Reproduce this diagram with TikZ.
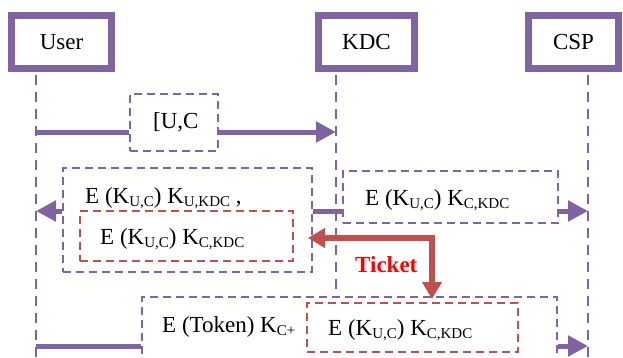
\documentclass[tikz,border=0pt]{standalone}
\usepackage{fontspec}
\setmainfont{Liberation Serif}
\usetikzlibrary{arrows.meta}
\definecolor{opurple}{HTML}{8064A2}
\definecolor{ored}{HTML}{C0504D}
\definecolor{tred}{HTML}{FF0000}
\newcommand\sbs[1]{\raisebox{-3.5pt}{\fontsize{15}{15}\selectfont #1}}
\tikzset{
  actor/.style={draw=opurple, line width=6.5pt, fill=white, inner sep=0pt, font=\fontsize{23}{27}\selectfont},
  life/.style={draw=opurple, line width=2.3pt, dash pattern=on 10pt off 7pt},
  pbox/.style={draw=opurple, fill=white, line width=2.3pt, dash pattern=on 8pt off 5pt, inner sep=0pt},
  rbox/.style={draw=ored, fill=white, line width=2.3pt, dash pattern=on 8pt off 5pt, inner sep=0pt},
  lbl/.style={anchor=base west, inner sep=0pt, font=\fontsize{23}{27}\selectfont},
  msg/.style={draw=opurple, line width=5pt},
  msgarr/.style={msg, -{Triangle[length=20pt,width=20pt]}},
  tick/.style={draw=ored, line width=6pt, {Triangle[length=17pt,width=19pt]}-{Triangle[length=17pt,width=19pt]}},
}
\begin{document}
\begin{tikzpicture}[x=1pt,y=-1pt]
\clip (0,0) rectangle (623,357);
\fill[white] (0,0) rectangle (623,357);
% actors
\node[actor, minimum width=100pt, minimum height=53pt] (User) at (61.5,42) {User};
\node[actor, minimum width=96pt, minimum height=53pt] (KDC) at (366.5,42) {KDC};
\node[actor, minimum width=90pt, minimum height=53pt] (CSP) at (573.5,42) {CSP};
% lifeline ends
\coordinate (uE) at (36,357);
\coordinate (kE) at (336,357);
\coordinate (cE) at (588,357);
\draw[life] ([yshift=-3.25pt]User.south -| uE) -- (uE);
\draw[life] ([yshift=-3.25pt]KDC.south -| kE) -- (kE);
\draw[life] ([yshift=-3.25pt]CSP.south -| cE) -- (cE);
% message 1
\coordinate (uA) at (36,132);
\coordinate (kA) at (336,132);
\node[pbox, minimum width=88pt, minimum height=57pt] (m1) at (174,122.5) {};
\node[lbl] (t1) at (153,128) {[U,C};
\draw[msg] (uA) -- (uA -| m1.west);
\draw[msgarr] (m1.east |- kA) -- (kA);
% message 2 (KDC -> User)
\coordinate (kB) at (336,211);
\coordinate (uB) at (36,211);
\coordinate (cB) at (588,211);
\node[pbox, minimum width=249pt, minimum height=104pt] (m2) at (187.5,220) {};
\node[rbox, minimum width=213pt, minimum height=50pt] (r2) at (186.5,236) {};
\node[lbl] (t2a) at (85,203) {E (K\sbs{U,C}) K\sbs{U,KDC} ,};
\node[lbl] (t2b) at (100,244) {E (K\sbs{U,C}) K\sbs{C,KDC}};
\draw[msg] (kB) -- (kB -| m2.east);
\draw[msgarr] (m2.west |- uB) -- (uB);
% message 3 (KDC -> CSP)
\node[pbox, minimum width=215pt, minimum height=52pt] (m3) at (450.5,197) {};
\node[lbl] (t3) at (365,205) {E (K\sbs{U,C}) K\sbs{C,KDC}};
\draw[msg] (kB) -- (kB -| m3.west);
\draw[msgarr] (m3.east |- cB) -- (cB);
% message 4 (User -> CSP)
\coordinate (uD) at (36,346);
\coordinate (cD) at (588,346);
\node[pbox, minimum width=415pt, minimum height=83pt] (m4) at (349.5,338.5) {};
\node[rbox, minimum width=211pt, minimum height=49pt] (r4) at (412.5,327.5) {};
\node[lbl] (t4a) at (162,332) {E (Token) K\sbs{C+}};
\node[lbl] (t4b) at (328,335) {E (K\sbs{U,C}) K\sbs{C,KDC}};
\draw[msg] (uD) -- (uD -| m4.west);
\draw[msgarr] (m4.east |- cD) -- (cD);
% ticket
\coordinate (tL) at (308,238);
\coordinate (tC) at (432,238);
\coordinate (tB) at (432,299);
\draw[tick] (tL) -- (tC) -- (tB);
\node[lbl, text=tred, font=\fontsize{23}{27}\selectfont\bfseries] (tt) at (355,272) {Ticket};
\end{tikzpicture}
\end{document}
